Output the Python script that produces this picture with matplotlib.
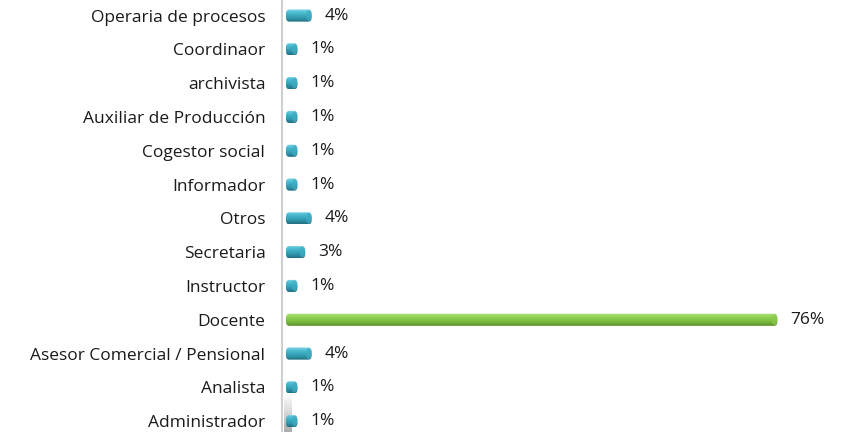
import numpy as np
import matplotlib.pyplot as plt
from matplotlib.patches import FancyBboxPatch, Ellipse
from matplotlib.colors import LinearSegmentedColormap

# bottom to top, as drawn
cargos = ['Administrador', 'Analista', 'Asesor Comercial / Pensional', 'Docente',
          'Instructor', 'Secretaria', 'Otros', 'Informador', 'Cogestor social',
          'Auxiliar de Producción', 'archivista', 'Coordinaor', 'Operaria de procesos']
porcentajes = [1, 1, 4, 76, 1, 3, 4, 1, 1, 1, 1, 1, 4]

plt.rcParams['font.family'] = ['Open Sans', 'DejaVu Sans']

# top of the cylinder is lighter, bottom darker
teal = LinearSegmentedColormap.from_list('teal', ['#7fd6e6', '#4fbdd2', '#3aa9bf', '#2f91a6', '#236f80'])
green = LinearSegmentedColormap.from_list('green', ['#b4e47e', '#96d45a', '#84c646', '#72b23a', '#5a922c'])

fig = plt.figure(figsize=(8.59, 4.32), dpi=100)
ax = fig.add_axes([282 / 859, 0, 577 / 859, 1])
ax.set_xlim(-0.6, 88.6)
ax.set_ylim(-0.32, 12.46)

h = 0.36
grad = np.linspace(0, 1, 64).reshape(-1, 1)
for i, v in enumerate(porcentajes):
    cmap = green if cargos[i] == 'Docente' else teal
    w = max(v, 1.8)
    clip = FancyBboxPatch((0, i - h / 2), w, h, boxstyle='round,pad=0,rounding_size=0.5',
                          mutation_aspect=0.3, transform=ax.transData, facecolor='none', edgecolor='none')
    ax.add_patch(clip)
    im = ax.imshow(grad, cmap=cmap, aspect='auto', extent=(0, w, i - h / 2, i + h / 2),
                   origin='upper', zorder=2)
    im.set_clip_path(clip)
    # end cap of the cylinder
    cap = Ellipse((w - 0.45, i), 0.8, h * 0.9, facecolor=cmap(0.45), edgecolor='none', zorder=3, alpha=0.7)
    ax.add_patch(cap)
    ax.text(w + 2.0, i, f'{v}%', va='center', ha='left', fontsize=12.5, color='#1a1a1a')

# grey shadow at the foot of the axis
shade = np.linspace(0, 1, 50).reshape(-1, 1)
ax.imshow(shade, cmap=LinearSegmentedColormap.from_list('sh', ['#ffffff', '#8a8a8a']),
          aspect='auto', extent=(-0.3, 0.9, -0.32, 0.8), origin='upper', zorder=1, alpha=0.7)

ax.set_yticks(range(len(cargos)))
ax.set_yticklabels(cargos, fontsize=12.5, color='#1a1a1a')
ax.tick_params(axis='y', length=0, pad=12)
ax.set_xticks([])
for s in ['top', 'right', 'bottom']:
    ax.spines[s].set_visible(False)
ax.spines['left'].set_color('#d0d0d0')
ax.spines['left'].set_linewidth(1.5)

fig.savefig('out.png', dpi=100)
